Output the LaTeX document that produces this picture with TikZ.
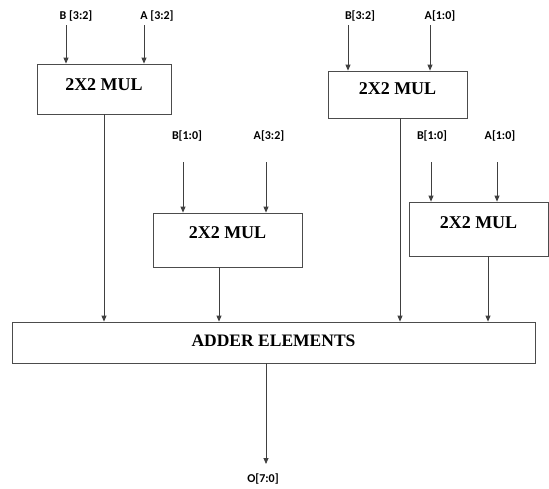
\documentclass[tikz,border=0pt]{standalone}
\usepackage{fontspec}
\setmainfont{Liberation Serif}
\newfontfamily\lblfont{Carlito}
\usetikzlibrary{arrows.meta}
\begin{document}
\begin{tikzpicture}[x=1pt,y=-1pt,
  line/.style={draw=black!75, line width=0.8pt},
  arr/.style={line, -{Triangle[length=6pt,width=5pt]}},
  blk/.style={draw=black!70, line width=0.8pt, inner xsep=0pt, inner ysep=0pt,
    anchor=base, font=\fontsize{18}{18}\selectfont\bfseries},
  sig/.style={inner sep=0pt, font=\lblfont\fontsize{12}{12}\selectfont\bfseries}
]
\useasboundingbox[fill=white] (0,0) rectangle (549,488);

% multiplier blocks
\node[blk, minimum width=134pt, text height=26pt, text depth=24pt] (m1) at (104,90) {2X2 MUL};
\node[blk, minimum width=139pt, text height=23pt, text depth=24pt] (m2) at (397.5,94) {2X2 MUL};
\node[blk, minimum width=149pt, text height=25pt, text depth=29pt] (m3) at (227.5,238) {2X2 MUL};
\node[blk, minimum width=139pt, text height=26pt, text depth=28pt] (m4) at (478.5,228) {2X2 MUL};
\node[blk, minimum width=523pt, text height=24pt, text depth=17pt,
  font=\fontsize{17.5}{17.5}\selectfont\bfseries] (add) at (273.5,346) {ADDER ELEMENTS};

% input labels
\node[sig] (b1) at (76,16) {B [3:2]};
\node[sig] (a1) at (157,16) {A [3:2]};
\node[sig] (b2) at (360,16) {B[3:2]};
\node[sig] (a2) at (440,16) {A[1:0]};
\node[sig] (b3) at (187,136) {B[1:0]};
\node[sig] (a3) at (269,136) {A[3:2]};
\node[sig] (b4) at (432,136) {B[1:0]};
\node[sig] (a4) at (500,136) {A[1:0]};
\node[sig] (o) at (263,479) {O[7:0]};

% arrow start points below the labels
\coordinate (tb1) at (66,25);
\coordinate (ta1) at (144,25);
\coordinate (tb2) at (348,25);
\coordinate (ta2) at (430,25);
\coordinate (tb3) at (183,162);
\coordinate (ta3) at (266,162);
\coordinate (tb4) at (431,162);
\coordinate (ta4) at (497,162);
\coordinate (oe) at (266,464);

\draw[arr] (tb1) -- (tb1 |- m1.north);
\draw[arr] (ta1) -- (ta1 |- m1.north);
\draw[arr] (tb2) -- (tb2 |- m2.north);
\draw[arr] (ta2) -- (ta2 |- m2.north);
\draw[arr] (tb3) -- (tb3 |- m3.north);
\draw[arr] (ta3) -- (ta3 |- m3.north);
\draw[arr] (tb4) -- (tb4 |- m4.north);
\draw[arr] (ta4) -- (ta4 |- m4.north);

% block outputs to adder
\draw[arr] (m1.south) -- (m1.south |- add.north);
\draw[arr] ([xshift=2.5pt]m2.south) -- ([xshift=2.5pt]m2.south |- add.north);
\draw[arr] ([xshift=-8.5pt]m3.south) -- ([xshift=-8.5pt]m3.south |- add.north);
\draw[arr] ([xshift=9.5pt]m4.south) -- ([xshift=9.5pt]m4.south |- add.north);

% final output
\draw[arr] (oe |- add.south) -- (oe);
\end{tikzpicture}
\end{document}
